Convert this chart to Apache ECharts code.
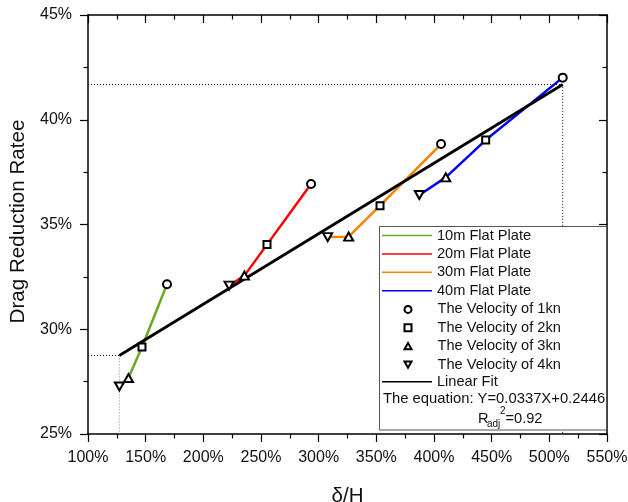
<!DOCTYPE html>
<html>
<head>
<meta charset="utf-8">
<script src="https://cdn.jsdelivr.net/npm/echarts@6/dist/echarts.min.js"></script>
<style>
html,body{margin:0;padding:0;background:#fff;}
#chart{width:628px;height:502px;}
</style>
</head>
<body>
<div id="chart"></div>
<script>
// ---- data (order in each plate array: 1kn, 2kn, 3kn, 4kn) ----
const plateNames = ['10m Flat Plate', '20m Flat Plate', '30m Flat Plate', '40m Flat Plate'];
const plate10X = [168.5, 146.8, 135.1, 127.2];
const plate10Y = [32.15, 29.15, 27.67, 27.27];
const plate20X = [293.4, 255.2, 235.6, 222.3];
const plate20Y = [36.93, 34.04, 32.56, 32.08];
const plate30X = [406.1, 353.2, 326.0, 307.8];
const plate30Y = [38.84, 35.90, 34.42, 34.40];
const plate40X = [511.6, 444.8, 410.2, 387.3];
const plate40Y = [42.01, 39.03, 37.25, 36.41];
const velocityNames = ['The Velocity of 1kn', 'The Velocity of 2kn', 'The Velocity of 3kn', 'The Velocity of 4kn'];
const fitName = 'Linear Fit';
const fitX = [127.2, 511.6];
const fitY = [28.75, 41.68];
const xTicks = [100, 150, 200, 250, 300, 350, 400, 450, 500, 550];
const yTicks = [25, 30, 35, 40, 45];
const equationText = 'The equation: Y=0.0337X+0.2446';
const r2Value = '=0.92';

// ---- styles ----
const plateColors = ['#6aaa22', '#ff0000', '#ff8000', '#0000ff'];
const velocitySymbols = ['circle', 'rect', 'triangle', 'triangle'];
const velocityRotate = [0, 0, 0, 180];
const velocitySizes = [8, 7, [9, 8], [9, 8]];
const legendIcons = ['circle', 'rect', 'path://M5,0 L10,9 L0,9 Z', 'path://M0,0 L10,0 L5,9 Z'];
const FONT = 'Liberation Sans, Arial, sans-serif';

const xMin = xTicks[0], xMax = xTicks[xTicks.length - 1];
const yMin = yTicks[0], yMax = yTicks[yTicks.length - 1];

const platesX = [plate10X, plate20X, plate30X, plate40X];
const platesY = [plate10Y, plate20Y, plate30Y, plate40Y];

const series = [];
plateNames.forEach((n, i) => {
  series.push({
    name: n, type: 'line', z: 1,
    data: platesX[i].map((x, k) => [x, platesY[i][k]]),
    symbol: 'none', color: plateColors[i],
    lineStyle: {width: 2.5, color: plateColors[i]},
    animation: false
  });
});
// guide dotted lines
series.push({
  type: 'line', z: 1, symbol: 'none', silent: true, animation: false,
  data: [[xMin, fitY[1]], [fitX[1], fitY[1]], [fitX[1], yMin]],
  lineStyle: {color: '#000', width: 1, type: [1, 2]}
});
series.push({
  type: 'line', z: 1, symbol: 'none', silent: true, animation: false,
  data: [[xMin, fitY[0]], [fitX[0], fitY[0]]],
  lineStyle: {color: '#000', width: 1, type: [1, 2]}
});
series.push({
  type: 'line', z: 1, symbol: 'none', silent: true, animation: false,
  data: [[fitX[0], fitY[0]], [fitX[0], yMin]],
  lineStyle: {color: '#888', width: 1, type: [1, 2]}
});
// fit
series.push({
  name: fitName, type: 'line', z: 2, symbol: 'none', animation: false,
  color: '#000',
  data: fitX.map((x, k) => [x, fitY[k]]),
  lineStyle: {color: '#000', width: 2.8}
});
// velocity markers
velocityNames.forEach((n, k) => {
  series.push({
    name: n, type: 'scatter', z: 3, animation: false,
    symbol: velocitySymbols[k], symbolRotate: velocityRotate[k], symbolSize: velocitySizes[k],
    data: platesX.map((xs, i) => [xs[k], platesY[i][k]]),
    itemStyle: {color: '#fff', borderColor: '#000', borderWidth: 2, opacity: 1}
  });
});

const lineIcon = 'path://M0,0 L50,0 L50,1.5 L0,1.5 Z';
const legendText = {fontFamily: FONT, fontSize: 14.6, color: '#111'};

const axisCommon = {
  type: 'value', splitLine: {show: false},
  axisLine: {show: true, onZero: false, lineStyle: {color: '#000', width: 1.5}},
};

const option = {
  animation: false,
  backgroundColor: '#fff',
  grid: {left: 88, right: 21, top: 15, bottom: 68, containLabel: false, outerBoundsMode: 'none'},
  xAxis: [
    Object.assign({}, axisCommon, {
      position: 'bottom', min: xMin, max: xMax, interval: 50,
      name: 'δ/H', nameLocation: 'middle', nameGap: 52,
      nameTextStyle: {fontFamily: FONT, fontSize: 20.5, color: '#111'},
      axisTick: {show: true, inside: false, length: 8, lineStyle: {color: '#000', width: 1.2}},
      minorTick: {show: true, splitNumber: 2, length: 4.5, lineStyle: {color: '#000', width: 1.2}},
      axisLabel: {formatter: '{value}%', fontFamily: FONT, fontSize: 16, color: '#111', margin: 16}
    }),
    Object.assign({}, axisCommon, {
      position: 'top', min: xMin, max: xMax, interval: 50,
      axisTick: {show: true, inside: true, length: 8, lineStyle: {color: '#000', width: 1.2}},
      minorTick: {show: true, splitNumber: 2, length: 4.5, lineStyle: {color: '#000', width: 1.2}},
      axisLabel: {show: false}
    })
  ],
  yAxis: [
    Object.assign({}, axisCommon, {
      position: 'left', min: yMin, max: yMax, interval: 5,
      name: 'Drag Reduction Ratee', nameLocation: 'middle', nameGap: 43,
      nameTextStyle: {fontFamily: FONT, fontSize: 20.6, color: '#111', padding: [0, 0, 0, 6]},
      axisTick: {show: true, inside: false, length: 8, lineStyle: {color: '#000', width: 1.2}},
      minorTick: {show: true, splitNumber: 2, length: 4.5, lineStyle: {color: '#000', width: 1.2}},
      axisLabel: {formatter: '{value}%', fontFamily: FONT, fontSize: 16, color: '#111', margin: 16}
    }),
    Object.assign({}, axisCommon, {
      position: 'right', min: yMin, max: yMax, interval: 5,
      axisTick: {show: true, inside: true, length: 8, lineStyle: {color: '#000', width: 1.2}},
      minorTick: {show: true, splitNumber: 2, length: 4.5, lineStyle: {color: '#000', width: 1.2}},
      axisLabel: {show: false}
    })
  ],
  legend: [
    {
      orient: 'vertical', left: 382, top: 228, padding: 0, z: 6,
      itemWidth: 50, itemHeight: 14, itemGap: 3.4, selectedMode: false,
      data: plateNames.map(n => ({name: n, icon: lineIcon})),
      textStyle: legendText
    },
    {
      orient: 'vertical', left: 403.5, top: 301.9, padding: 0, z: 6,
      itemWidth: 7, itemHeight: 7, itemGap: 3.4, selectedMode: false,
      data: velocityNames.map((n, k) => ({name: n, icon: legendIcons[k]})),
      formatter: name => '{g|}' + name,
      textStyle: Object.assign({}, legendText, {rich: {g: {width: 21}}})
    },
    {
      orient: 'vertical', left: 382, top: 374.3, padding: 0, z: 6,
      itemWidth: 50, itemHeight: 14, itemGap: 4, selectedMode: false,
      data: [{name: fitName, icon: lineIcon}],
      textStyle: legendText
    }
  ],
  graphic: [
    {type: 'rect', z: 5, shape: {x: 379.5, y: 226.5, width: 227, height: 203.5},
     style: {fill: '#fff', stroke: '#555', lineWidth: 1}},
    {type: 'text', z: 7, style: {x: 383, y: 399, text: equationText, fontFamily: FONT, fontSize: 14.8, fill: '#111', verticalAlign: 'middle'}},
    {type: 'text', z: 7, style: {x: 478, y: 419, text: 'R', fontFamily: FONT, fontSize: 14.6, fill: '#111', verticalAlign: 'middle'}},
    {type: 'text', z: 7, style: {x: 487, y: 424.5, text: 'adj', fontFamily: FONT, fontSize: 10, fill: '#111', verticalAlign: 'middle'}},
    {type: 'text', z: 7, style: {x: 500, y: 411, text: '2', fontFamily: FONT, fontSize: 10, fill: '#111', verticalAlign: 'middle'}},
    {type: 'text', z: 7, style: {x: 505.5, y: 419, text: r2Value, fontFamily: FONT, fontSize: 14.6, fill: '#111', verticalAlign: 'middle'}}
  ],
  series: series
};

const chart = echarts.init(document.getElementById('chart'), null, {renderer: 'canvas'});
chart.setOption(option);
</script>
</body>
</html>
